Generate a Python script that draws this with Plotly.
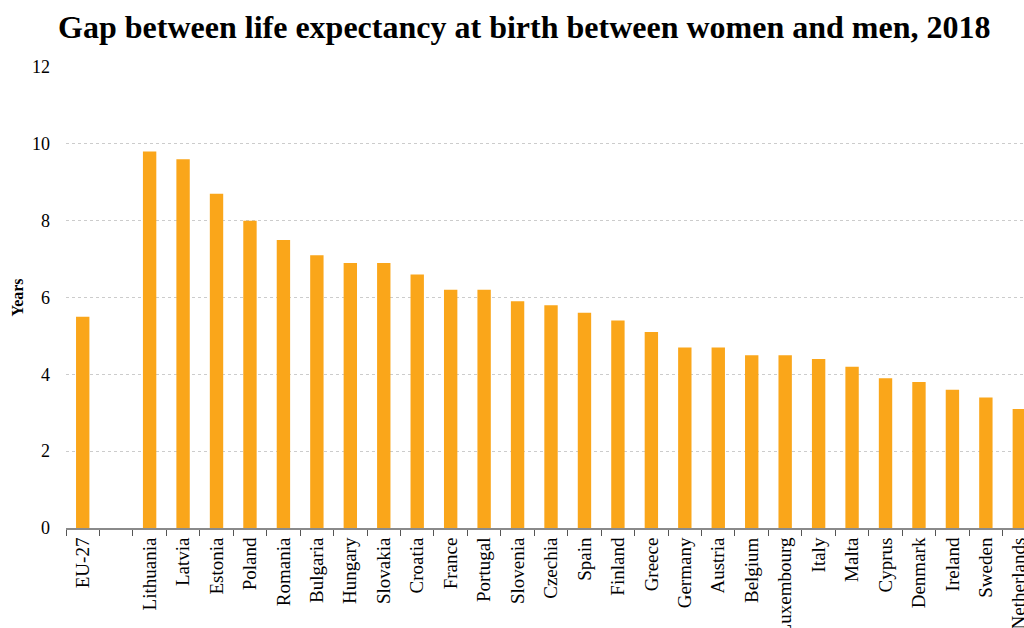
import plotly.graph_objects as go

categories = ["EU-27", " ", "Lithuania", "Latvia", "Estonia", "Poland", "Romania", "Bulgaria",
              "Hungary", "Slovakia", "Croatia", "France", "Portugal", "Slovenia", "Czechia",
              "Spain", "Finland", "Greece", "Germany", "Austria", "Belgium", "Luxembourg",
              "Italy", "Malta", "Cyprus", "Denmark", "Ireland", "Sweden", "Netherlands"]
values = [5.5, None, 9.8, 9.6, 8.7, 8.0, 7.5, 7.1, 6.9, 6.9, 6.6, 6.2, 6.2, 5.9, 5.8,
          5.6, 5.4, 5.1, 4.7, 4.7, 4.5, 4.5, 4.4, 4.2, 3.9, 3.8, 3.6, 3.4, 3.1]
y_ticks = [0, 2, 4, 6, 8, 10, 12]

FONT = "Liberation Serif, Times New Roman, serif"

fig = go.Figure(go.Bar(x=categories, y=values, marker=dict(color="#FAA61A", line=dict(width=0)),
                       width=0.4))

fig.update_layout(
    width=1024, height=628,
    paper_bgcolor="white", plot_bgcolor="white",
    margin=dict(l=66, r=0, t=67, b=100),
    font=dict(family=FONT, color="#000000", size=18),
    title=dict(text="<b>Gap between life expectancy at birth between women and men, 2018</b>",
               x=0.512, xanchor="center", y=0.958, yanchor="middle",
               font=dict(family=FONT, size=32, color="#000000")),
    showlegend=False,
    bargap=0.6,
)
fig.update_xaxes(
    type="category", range=[-0.5, 28.14], automargin=False,
    showline=True, linecolor="#8a8a8a", linewidth=2,
    ticks="outside", tickson="boundaries", ticklen=6, tickcolor="#555555",
    tickangle=-90, tickfont=dict(family=FONT, size=19, color="#000000"),
    ticklabeloverflow="allow",
    showgrid=False,
)
fig.update_yaxes(
    range=[0, 12], tickvals=y_ticks, automargin=False,
    showline=False, ticks="", ticklabelstandoff=15,
    showgrid=True, gridcolor="#cccccc", griddash="dot", gridwidth=1,
    zeroline=False,
    tickfont=dict(family=FONT, size=18, color="#000000"),
    title=dict(text="<b>Years</b>", font=dict(family=FONT, size=16, color="#000000"), standoff=4),
)

fig.write_html("out.html", config={"displayModeBar": False},
               post_script="document.body.style.margin='0';document.body.style.overflow='hidden';")
